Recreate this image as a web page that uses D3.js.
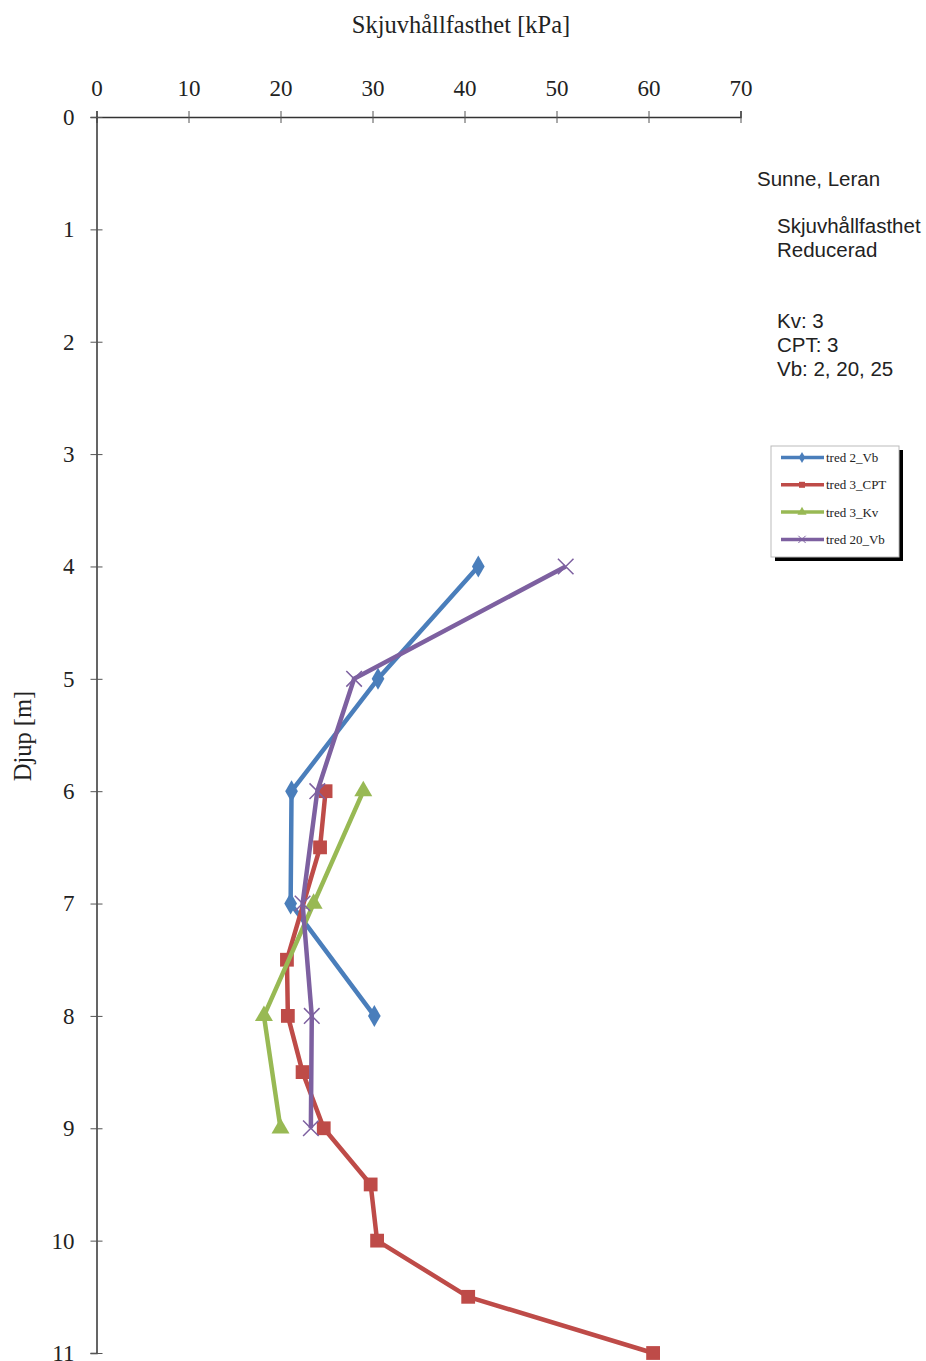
<!DOCTYPE html>
<html lang="sv">
<head>
  <meta charset="UTF-8">
  <title>Skjuvhållfasthet</title>
  <script src="https://d3js.org/d3.v7.min.js"></script>
  <style>
    body { margin: 0; background: #fff; }
  </style>
</head>
<body>
  <script>
    // data (depth in m, strength in kPa)
    const xTicks = [0, 10, 20, 30, 40, 50, 60, 70];
    const yTicks = [0, 1, 2, 3, 4, 5, 6, 7, 8, 9, 10, 11];

    const vb2Depth = [4, 5, 6, 7, 8];
    const vb2Value = [41.5, 30.6, 21.2, 21.1, 30.2];

    const cptDepth = [6, 6.5, 7.5, 8, 8.5, 9, 9.5, 10, 10.5, 11];
    const cptValue = [24.9, 24.3, 20.7, 20.8, 22.4, 24.7, 29.8, 30.5, 40.4, 60.5];

    const kvDepth = [6, 7, 8, 9];
    const kvValue = [29.0, 23.6, 18.2, 20.0];

    const vb20Depth = [4, 5, 6, 7, 8, 9];
    const vb20Value = [51.0, 28.0, 24.0, 22.4, 23.4, 23.3];

    const seriesNames = ["tred 2_Vb", "tred 3_CPT", "tred 3_Kv", "tred 20_Vb"];
    const seriesColors = ["#4a7ebb", "#be4b48", "#98b954", "#7d60a0"];
    const seriesMarkers = ["diamond", "square", "triangle", "cross"];

    const series = [
      { depth: vb2Depth, value: vb2Value },
      { depth: cptDepth, value: cptValue },
      { depth: kvDepth, value: kvValue },
      { depth: vb20Depth, value: vb20Value }
    ];

    const serif = "'Liberation Serif', 'DejaVu Serif', serif";
    const sans = "'Liberation Sans', Arial, sans-serif";

    const svg = d3.select("body")
      .append("svg")
      .attr("width", 926)
      .attr("height", 1361);

    const x = d3.scaleLinear().domain([0, 70]).range([96.5, 740.5]);
    const y = d3.scaleLinear().domain([0, 11]).range([117, 1353]);

    // axes
    const xAxis = svg.append("g")
      .attr("transform", "translate(0,117)")
      .call(d3.axisTop(x).tickValues(xTicks).tickSize(6).tickPadding(15));
    xAxis.selectAll(".tick line").attr("y2", -6).attr("y1", 6);

    const yAxis = svg.append("g")
      .attr("transform", "translate(96.5,0)")
      .call(d3.axisLeft(y).tickValues(yTicks).tickSize(6).tickPadding(16));
    yAxis.selectAll(".tick line").attr("x2", -6).attr("x1", 6);

    svg.selectAll(".domain").attr("stroke", "#333").attr("stroke-width", 1.5);
    svg.selectAll(".tick line").attr("stroke", "#555").attr("stroke-width", 1);
    svg.selectAll(".tick text")
      .attr("font-family", serif)
      .attr("font-size", 23)
      .attr("fill", "#222");

    // titles
    svg.append("text")
      .attr("x", 461).attr("y", 33)
      .attr("text-anchor", "middle")
      .attr("font-family", serif).attr("font-size", 24.5).attr("fill", "#222")
      .text("Skjuvhållfasthet [kPa]");

    svg.append("text")
      .attr("transform", "translate(31,736) rotate(-90)")
      .attr("text-anchor", "middle")
      .attr("font-family", serif).attr("font-size", 24.5).attr("fill", "#222")
      .text("Djup [m]");

    // series
    const symbolFor = {
      diamond: d3.symbol().type(d3.symbolDiamond).size(140),
      square: d3.symbol().type(d3.symbolSquare).size(190),
      triangle: d3.symbol().type(d3.symbolTriangle).size(140),
      cross: d3.symbol().type(d3.symbolX).size(160)
    };

    const line = d3.line().x(d => x(d[1])).y(d => y(d[0]));

    series.forEach((s, i) => {
      const pts = s.depth.map((d, j) => [d, s.value[j]]);
      const g = svg.append("g");
      g.append("path")
        .datum(pts)
        .attr("d", line)
        .attr("fill", "none")
        .attr("stroke", seriesColors[i])
        .attr("stroke-width", 4.5)
        .attr("stroke-linejoin", "round");
      g.selectAll("path.m")
        .data(pts)
        .join("path")
        .attr("class", "m")
        .attr("transform", d => `translate(${x(d[1])},${y(d[0])})`)
        .attr("d", symbolFor[seriesMarkers[i]]())
        .attr("fill", seriesMarkers[i] == "cross" ? "none" : seriesColors[i])
        .attr("stroke", seriesColors[i])
        .attr("stroke-width", seriesMarkers[i] == "cross" ? 1.5 : 0);
    });

    // notes on the right
    const notes = [
      ["Sunne, Leran", 757, 186],
      ["Skjuvhållfasthet", 777, 233],
      ["Reducerad", 777, 257],
      ["Kv: 3", 777, 328],
      ["CPT: 3", 777, 352],
      ["Vb: 2, 20, 25", 777, 376]
    ];
    svg.selectAll("text.note")
      .data(notes)
      .join("text")
      .attr("class", "note")
      .attr("x", d => d[1]).attr("y", d => d[2])
      .attr("font-family", sans).attr("font-size", 20.5).attr("fill", "#222")
      .text(d => d[0]);

    // legend
    const lg = svg.append("g").attr("transform", "translate(771,446)");
    lg.append("rect").attr("x", 4).attr("y", 4).attr("width", 128).attr("height", 111).attr("fill", "#000");
    lg.append("rect").attr("x", 0).attr("y", 0).attr("width", 128).attr("height", 111)
      .attr("fill", "#fff").attr("stroke", "#bbb").attr("stroke-width", 1);

    seriesNames.forEach((name, i) => {
      const yy = 11.5 + i * 27.3;
      lg.append("line")
        .attr("x1", 10).attr("x2", 53).attr("y1", yy).attr("y2", yy)
        .attr("stroke", seriesColors[i]).attr("stroke-width", 3.5);
      lg.append("path")
        .attr("transform", `translate(31,${yy})`)
        .attr("d", d3.symbol().type([d3.symbolDiamond, d3.symbolSquare, d3.symbolTriangle, d3.symbolX][i]).size(36)())
        .attr("fill", seriesMarkers[i] == "cross" ? "none" : seriesColors[i])
        .attr("stroke", seriesColors[i])
        .attr("stroke-width", seriesMarkers[i] == "cross" ? 1 : 0);
      lg.append("text")
        .attr("x", 55).attr("y", yy + 4.5)
        .attr("font-family", serif).attr("font-size", 13).attr("fill", "#222")
        .text(name);
    });
  </script>
</body>
</html>
